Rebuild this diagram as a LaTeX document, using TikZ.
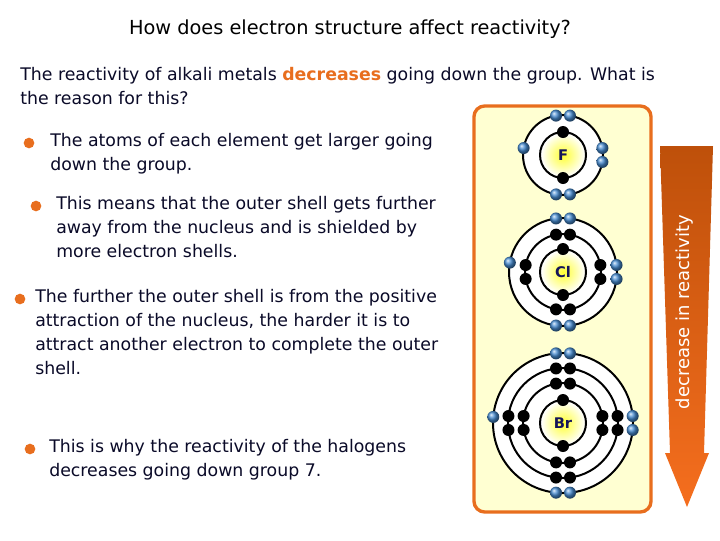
\documentclass[tikz,border=0pt]{standalone}
\usepackage{fontspec}
\setmainfont{DejaVu Sans}
\usetikzlibrary{calc}
\definecolor{txt}{RGB}{10,10,40}
\definecolor{org}{RGB}{232,110,30}
\definecolor{panel}{RGB}{255,255,210}
\definecolor{eblue}{RGB}{70,140,210}
\newcommand{\eb}[3]{\shade[ball color=eblue] ($(#1)+(#2:#3)$) circle (6);}
\newcommand{\ek}[3]{\fill[black] ($(#1)+(#2:#3)$) circle (6);}
\newcommand{\pairb}[3]{\pgfmathsetmacro\dd{7/#3*57.3}\eb{#1}{#2+\dd}{#3}\eb{#1}{#2-\dd}{#3}}
\newcommand{\pairk}[3]{\pgfmathsetmacro\dd{7/#3*57.3}\ek{#1}{#2+\dd}{#3}\ek{#1}{#2-\dd}{#3}}
\begin{document}
\begin{tikzpicture}[x=0.75pt,y=-0.75pt,
  para/.style={anchor=north west,inner sep=0,align=left,font=\fontsize{13}{18}\selectfont,text=txt},
  bul/.style={circle,fill=org,inner sep=0,minimum size=8pt},
  shell/.style={draw=black,line width=1.5pt}]
\useasboundingbox (0,0) rectangle (720,540);
\fill[white] (0,0) rectangle (720,540);
\node[anchor=base,font=\fontsize{14.5}{18}\selectfont,text=black] (title) at (350,34) {How does electron structure affect reactivity?};
\node[para] (intro) at (20,67) {The reactivity of alkali metals \textcolor{org}{\textbf{decreases}} going down the group. What is\\the reason for this?};
\node[bul] (b1) at (29,143) {};
\node[para] (t1) at (50,133) {The atoms of each element get larger going\\down the group.};
\node[bul] (b2) at (36,206) {};
\node[para] (t2) at (56,196) {This means that the outer shell gets further\\away from the nucleus and is shielded by\\more electron shells.};
\node[bul] (b3) at (20,299) {};
\node[para] (t3) at (35,289) {The further the outer shell is from the positive\\attraction of the nucleus, the harder it is to\\attract another electron to complete the outer\\shell.};
\node[bul] (b4) at (30,449) {};
\node[para] (t4) at (49,439) {This is why the reactivity of the halogens\\decreases going down group 7.};
% panel
\draw[org,line width=2.5pt,fill=panel,rounded corners=8] (474,106) rectangle (651,512);
% arrow
\shade[top color={rgb,255:red,190;green,80;blue,10},bottom color={rgb,255:red,245;green,110;blue,30}]
  (660,146) -- (713,146) -- (704,453) -- (709,453) -- (687,507) -- (665,453) -- (670,453) -- cycle;
\node[rotate=90,text=white,font=\fontsize{13.5}{16}\selectfont] (arrlab) at (685,312) {decrease in reactivity};
% atoms
\coordinate (F) at (563,155);
\coordinate (Cl) at (563,272);
\coordinate (Br) at (563,423);
\fill[white] (F) circle (40);
\fill[white] (Cl) circle (54);
\fill[white] (Br) circle (70);
\foreach \c in {F,Cl,Br}{\shade[inner color=yellow!80,outer color=white] (\c) circle (22);}
\draw[shell] (F) circle (23) (F) circle (40);
\draw[shell] (Cl) circle (23) (Cl) circle (38) (Cl) circle (54);
\draw[shell] (Br) circle (23) (Br) circle (40) (Br) circle (55) (Br) circle (70);
\node[font=\bfseries\fontsize{11}{12}\selectfont,text={rgb,255:red,20;green,20;blue,90}] (lF) at (F) {F};
\node[font=\bfseries\fontsize{11}{12}\selectfont,text={rgb,255:red,20;green,20;blue,90}] (lCl) at (Cl) {Cl};
\node[font=\bfseries\fontsize{11}{12}\selectfont,text={rgb,255:red,20;green,20;blue,90}] (lBr) at (Br) {Br};
% F
\ek{F}{90}{23}\ek{F}{270}{23}
\pairb{F}{90}{40}\pairb{F}{270}{40}\pairb{F}{0}{40}\eb{F}{190}{40}
% Cl
\ek{Cl}{90}{23}\ek{Cl}{270}{23}
\pairk{Cl}{90}{38}\pairk{Cl}{270}{38}\pairk{Cl}{0}{38}\pairk{Cl}{180}{38}
\pairb{Cl}{90}{54}\pairb{Cl}{270}{54}\pairb{Cl}{0}{54}\eb{Cl}{190}{54}
% Br
\ek{Br}{90}{23}\ek{Br}{270}{23}
\pairk{Br}{90}{40}\pairk{Br}{270}{40}\pairk{Br}{0}{40}\pairk{Br}{180}{40}
\pairk{Br}{90}{55}\pairk{Br}{270}{55}\pairk{Br}{0}{55}\pairk{Br}{180}{55}
\pairb{Br}{90}{70}\pairb{Br}{270}{70}\pairb{Br}{0}{70}\eb{Br}{185}{70}
\end{tikzpicture}
\end{document}
